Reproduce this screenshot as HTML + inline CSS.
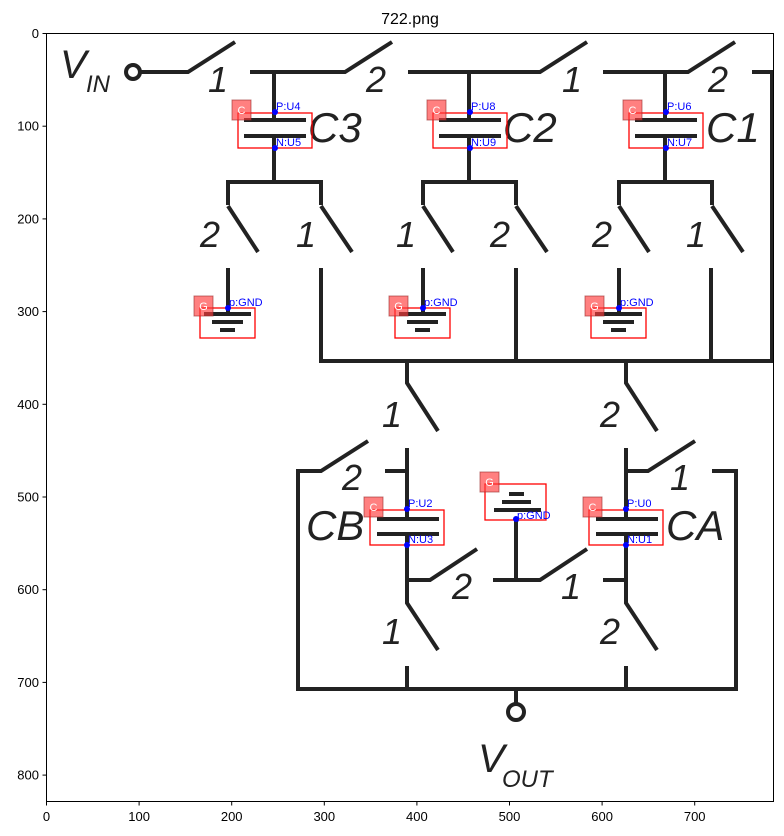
<!DOCTYPE html>
<html><head><meta charset="utf-8"><style>
html,body{margin:0;padding:0;background:#fff;}
svg{display:block;font-family:"Liberation Sans",sans-serif;}
</style></head><body>
<svg id="s" width="784" height="836" viewBox="0 0 784 836">
<text x="410" y="24" font-size="16" text-anchor="middle" fill="#000">722.png</text>
<g id="circ" stroke="#222" stroke-width="4" fill="none" stroke-linecap="butt">
<circle cx="133" cy="72" r="7"/>
<path d="M140 72H188L235 42M250 72H345L392 42M408 72H540L587 42M603 72H688L735 42M752 72H772V361"/>
<path d="M274 72V120M244 120H306M244 136H306M274 136V182M228 205V182H321V205M228 206L258 252M321 206L352 252M228 268V314M204 314H251M212 322H243M220 330H235M321 268V361H774"/>
<path d="M469 72V120M439 120H501M439 136H501M469 136V182M423 205V182H516V205M423 206L453 252M516 206L547 252M423 268V314M399 314H446M407 322H438M415 330H430M516 268V361"/>
<path d="M665 72V120M635 120H697M635 136H697M665 136V182M619 205V182H712V205M619 206L649 252M712 206L743 252M619 268V314M595 314H642M603 322H634M611 330H626M711 268V361"/>
<path d="M407 361V383L438 431M626 361V383L657 431"/>
<path d="M407 448V519M377 519H439M377 534H439M407 534V603L438 650M385 471H407M407 580H430L477 549M407 666V689"/>
<path d="M626 448V519M596 519H658M596 534H658M626 534V603L657 650M626 471H648L695 441M603 580H626M626 666V689"/>
<path d="M368 441L321 471H298V689H736V471H712M494 510H541M502 502H531M509 494H524M516 519V580M493 580H540L587 549M516 689V704"/>
<circle cx="516" cy="712" r="8"/>
</g>
<g fill="#222" font-style="italic">
<text x="60" y="78" font-size="40">V</text><text x="86" y="92" font-size="24">IN</text>
<text x="208" y="92" font-size="36">1</text><text x="366" y="92" font-size="36">2</text>
<text x="562" y="92" font-size="36">1</text><text x="708" y="92" font-size="36">2</text>
<text x="308" y="142" font-size="42">C3</text><text x="503" y="142" font-size="42">C2</text><text x="706" y="142" font-size="42">C1</text>
<text x="200" y="247" font-size="36">2</text><text x="296" y="247" font-size="36">1</text>
<text x="396" y="247" font-size="36">1</text><text x="490" y="247" font-size="36">2</text>
<text x="592" y="247" font-size="36">2</text><text x="686" y="247" font-size="36">1</text>
<text x="382" y="427" font-size="36">1</text><text x="600" y="427" font-size="36">2</text>
<text x="342" y="490" font-size="36">2</text><text x="670" y="490" font-size="36">1</text>
<text x="306" y="540" font-size="42">CB</text><text x="666" y="540" font-size="42">CA</text>
<text x="452" y="599" font-size="36">2</text><text x="561" y="599" font-size="36">1</text>
<text x="382" y="644" font-size="36">1</text><text x="600" y="644" font-size="36">2</text>
<text x="478" y="772" font-size="40">V</text><text x="502" y="787" font-size="24">OUT</text>
</g>
<g id="ann"></g>
<rect x="46.5" y="33.5" width="727" height="768" fill="none" stroke="#000" stroke-width="1"/>
<g id="ticks" font-size="13" fill="#000"></g>
</svg>
<script>
const NS='http://www.w3.org/2000/svg';
const xTicks=[0,100,200,300,400,500,600,700];
const yTicks=[0,100,200,300,400,500,600,700,800];
const capBoxes=[[238,113,'U4','U5'],[433,113,'U8','U9'],[629,113,'U6','U7'],[370,510,'U2','U3'],[589,510,'U0','U1']];
const gndBoxes=[[200,308,228],[395,308,423],[591,308,619]];
const X=v=>46.5+v*0.926, Y=v=>33.5+v*0.927;
const tg=document.getElementById('ticks');
function mk(tag,attrs,parent,txt){const e=document.createElementNS(NS,tag);for(const k in attrs)e.setAttribute(k,attrs[k]);if(txt!==undefined)e.textContent=txt;parent.appendChild(e);return e;}
xTicks.forEach(t=>{const x=X(t);
 const l=mk('line',{x1:x,x2:x,y1:801.5,y2:805.5,stroke:'#000'},tg);
 
 
 const tx=mk('text',{x:x,y:821,'text-anchor':'middle'},tg,String(t));
 
 });
yTicks.forEach(t=>{const y=Y(t);
 const l=mk('line',{x1:42.5,x2:46.5,y1:y,y2:y,stroke:'#000'},tg);
 
 
 const tx=mk('text',{x:39,y:y+4.5,'text-anchor':'end'},tg,String(t));
 
 });
const ag=document.getElementById('ann');
function tag(x,y,ch){const r=mk('rect',{x:x,y:y,width:19,height:20,fill:'rgba(255,60,60,0.65)',stroke:'rgba(150,40,40,0.6)'},ag);
 
 
 mk('text',{x:x+9.5,y:y+14,'font-size':11,fill:'#fff','text-anchor':'middle'},ag,ch);}
function dot(x,y,t){const c=mk('circle',{cx:x,cy:y,r:3,fill:'#00f'},ag);
 
 
 mk('text',{x:x+1,y:y-2,'font-size':11,fill:'#00f'},ag,t);}
capBoxes.forEach(b=>{const [x,y,p,n]=b;
 const r=mk('rect',{x:x,y:y,width:74,height:35,fill:'none',stroke:'#f00','stroke-width':1.3},ag);
 
 
 tag(x-6,y-13,'C');dot(x+37,y-1,'P:'+p);dot(x+37,y+35,'N:'+n);});
gndBoxes.forEach(b=>{const [x,y,dx]=b;
 const r=mk('rect',{x:x,y:y,width:55,height:30,fill:'none',stroke:'#f00','stroke-width':1.3},ag);
 
 
 tag(x-6,y-12,'G');dot(dx,y,'p:GND');});
(function(){const r=mk('rect',{x:485,y:484,width:61,height:36,fill:'none',stroke:'#f00','stroke-width':1.3},ag);
 
 
 tag(480,472,'G');
 const c=mk('circle',{cx:516,cy:519,r:3,fill:'#00f'},ag);
 
 
 mk('text',{x:517,y:519,'font-size':11,fill:'#00f'},ag,'p:GND');})();
</script>
</body></html>
